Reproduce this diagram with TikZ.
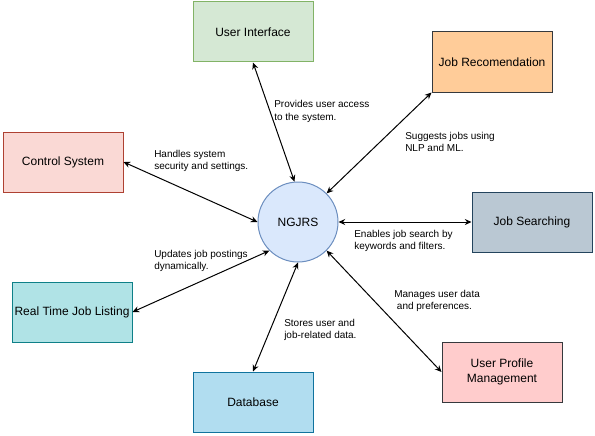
\documentclass[tikz,border=0pt]{standalone}
\usepackage{fontspec}
\setmainfont{Liberation Sans}
\usetikzlibrary{arrows.meta}

\definecolor{uifill}{HTML}{D5E8D4}\definecolor{uidraw}{HTML}{82B366}
\definecolor{jrfill}{HTML}{FFCC99}\definecolor{jrdraw}{HTML}{36393D}
\definecolor{csfill}{HTML}{FAD9D5}\definecolor{csdraw}{HTML}{AE4132}
\definecolor{ngfill}{HTML}{DAE8FC}\definecolor{ngdraw}{HTML}{6C8EBF}
\definecolor{jsfill}{HTML}{BAC8D3}\definecolor{jsdraw}{HTML}{23445D}
\definecolor{rtfill}{HTML}{B0E3E6}\definecolor{rtdraw}{HTML}{0E8088}
\definecolor{dbfill}{HTML}{B1DDF0}\definecolor{dbdraw}{HTML}{10739E}
\definecolor{upfill}{HTML}{FFCCCC}\definecolor{updraw}{HTML}{36393D}

\begin{document}
\begin{tikzpicture}[x=0.75pt,y=-0.75pt,
	box/.style={draw,line width=0.75pt,minimum width=90pt,minimum height=45pt,
		inner sep=0pt,align=center,font=\fontsize{9}{10.8}\selectfont},
	edgelabel/.style={anchor=west,inner sep=0pt,align=left,
		font=\fontsize{7.5}{9.4}\selectfont}]
		\useasboundingbox (0,0) rectangle (595,435);
		\begin{scope}[every node/.style={box}]
			\node[fill=uifill,draw=uidraw] (UI) at (253,32) {User Interface};
			\node[fill=jrfill,draw=jrdraw] (JR) at (492,62) {Job Recomendation};
			\node[fill=csfill,draw=csdraw] (CS) at (63,162) {Control System};
			\node[fill=jsfill,draw=jsdraw] (JS) at (532,222) {Job Searching};
			\node[fill=rtfill,draw=rtdraw] (RT) at (72,312) {Real Time Job Listing};
			\node[fill=dbfill,draw=dbdraw] (DB) at (253,402) {Database};
			\node[fill=upfill,draw=updraw] (UP) at (502,372) {User Profile\\Management};
			\node[circle,minimum size=60pt,fill=ngfill,draw=ngdraw] (NG) at (298,222) {NGJRS};
		\end{scope}
		\begin{scope}[>={Stealth[black,length=5pt,width=4.5pt]},
			every edge/.style={draw=black,line width=0.75pt}]
			\path [<->] (UI.south) edge (NG.95);
			\path [<->] (JR.south west) edge (NG.45);
			\path [<->] (CS.east) edge (NG.west);
			\path [<->] (NG.east) edge (JS.west);
			\path [<->] (RT.east) edge (NG.225);
			\path [<->] (DB.north) edge (NG.south);
			\path [<->] (UP.west) edge (NG.-45);
		\end{scope}
		\node[edgelabel] (lUI) at (274,111.5) {Provides user access\\to the system.};
		\node[edgelabel] (lJR) at (405,142) {Suggests jobs using\\NLP and ML.};
		\node[edgelabel] (lCS) at (154,161) {Handles system\\security and settings.};
		\node[edgelabel] (lRT) at (154,261) {Updates job postings\\dynamically.};
		\node[edgelabel] (lJS) at (354,241) {Enables job search by\\keywords and filters.};
		\node[edgelabel] (lDB) at (284,330) {Stores user and\\job-related data.};
		\node[edgelabel] (lUP) at (394,301) {Manages user data\\\hspace*{2pt}and preferences.};
	\end{tikzpicture}
\end{document}
